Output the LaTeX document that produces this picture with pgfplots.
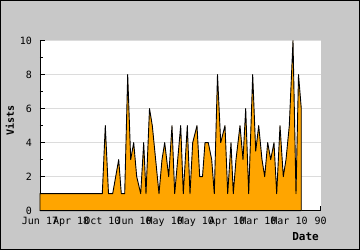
\documentclass[border=0pt]{standalone}
\usepackage{pgfplots}
\pgfplotsset{compat=1.18}
\usepackage{fontspec}
\setmainfont{DejaVu Sans Mono}
\setmonofont{DejaVu Sans Mono}
\definecolor{bg}{RGB}{200,200,200}
\definecolor{gridc}{RGB}{220,220,220}
\definecolor{fillc}{RGB}{255,165,0}
\begin{document}
\begin{tikzpicture}[x=1pt,y=1pt]
\fill[bg] (0,0) rectangle (360,250);
\draw[black, line width=1pt] (0.5,0.5) rectangle (359.5,249.5);
\useasboundingbox (0,0) rectangle (360,250);
\begin{axis}[
  at={(40pt,39.4pt)}, anchor=origin,
  scale only axis, width=280.7pt, height=170pt,
  xmin=0, xmax=280.7, ymin=0, ymax=10,
  clip=false,
  axis lines=left, axis line style={-, black, line width=0.8pt},
  axis background/.style={fill=white},
  tick align=inside, major tick length=5pt, minor tick length=3pt,
  tick style={black, line width=0.8pt},
  xtick={0,31.19,62.38,93.57,124.76,155.94,187.13,218.32,249.51,280.7},
  xticklabels={Jun 17,Apr 18,Oct 10,Jun 10,May 10,May 10,Apr 10,Mar 10,Mar 10,90},
  ytick={0,2,4,6,8,10}, minor ytick={1,3,5,7,9},
  ymajorgrids, grid style={gridc, line width=0.8pt},
  /pgf/number format/assume math mode=true,
  ticklabel style={font=\fontsize{10}{12}\selectfont, inner sep=0pt},
  yticklabel style={anchor=east, xshift=-8pt},
  xticklabel style={anchor=north, yshift=-6pt},
  xlabel={Date},
  xlabel style={at={(rel axis cs:1,0)}, anchor=base east, inner sep=0pt, yshift=-29.4pt, xshift=-1.7pt, font=\bfseries\fontsize{11}{13}\selectfont},
  ylabel={Vists},
  ylabel style={at={(rel axis cs:-0.1069,0.53)}, anchor=center, inner sep=0pt, font=\bfseries\fontsize{10}{12}\selectfont},
]
\addplot[draw=black, fill=fillc, line width=0.9pt, line join=round] coordinates {
(0,1) (62.3,1) (65.3,5) (68.5,1) (72.7,1) (78.7,3) (81.3,1) (84.7,1) (87.7,8) (90.7,3) (93.7,4) (96.7,2) (100.7,1) (103.7,4) (106,1) (109.5,6) (112.3,5) (119,1) (122,3) (124.7,4) (128.7,2) (132,5) (134.7,1) (140.7,5) (143.3,1) (147.3,5) (150,1) (152.7,4) (157,5) (159.7,2) (162.5,2) (165,4) (168.3,4) (171.7,3) (174.3,1) (177.5,8) (180.7,4) (185,5) (187.7,1) (191,4) (193.3,1) (196,3) (200,5) (203,3) (205.7,6) (208.7,1) (212.7,8) (215.7,3.5) (218.7,5) (222,3) (224.7,2) (227.7,4) (230.7,3) (234,4) (236.7,1) (240,5) (243.3,2) (246,3) (249.3,5) (253,10) (256,1) (258.5,8) (261.3,6)
} \closedcycle;
\end{axis}
\end{tikzpicture}
\end{document}
